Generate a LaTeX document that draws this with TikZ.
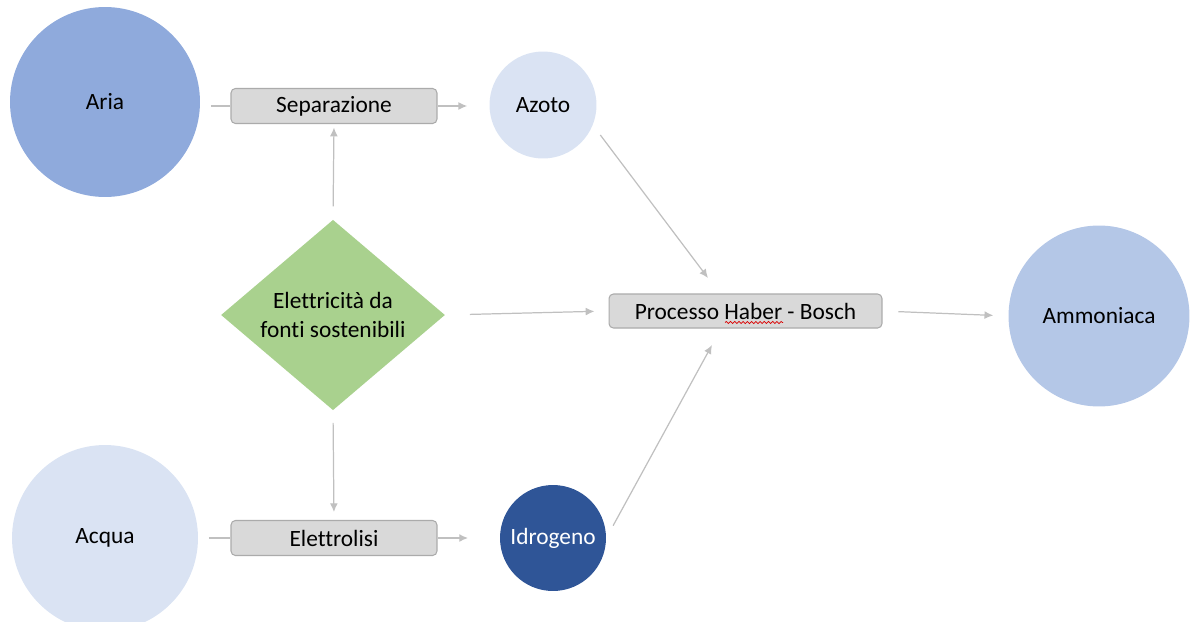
\documentclass[tikz,border=0pt]{standalone}
\usepackage{fontspec}
\setmainfont{Carlito}[Ligatures=NoCommon]
\usetikzlibrary{shapes.geometric,arrows.meta,decorations.pathmorphing}
\definecolor{aria}{HTML}{8FAADC}
\definecolor{pale}{HTML}{DAE3F3}
\definecolor{ammo}{HTML}{B4C7E7}
\definecolor{idro}{HTML}{2F5597}
\definecolor{green}{HTML}{A9D18E}
\definecolor{boxfill}{HTML}{D9D9D9}
\definecolor{boxline}{HTML}{ABABAB}
\definecolor{link}{HTML}{C0C0C0}
\begin{document}
\begin{tikzpicture}[x=0.02cm, y=-0.02cm,
  every node/.style={font=\fontsize{13.3}{16.5}\selectfont, text=black},
  bubble/.style={circle, draw=none, inner sep=0pt},
  stepbox/.style={draw=boxline, line width=0.6pt, fill=boxfill, rounded corners=2.5pt,
    minimum width=4.12cm, minimum height=0.7cm, inner sep=0pt},
  source/.style={diamond, fill=green, draw=none, inner sep=0pt,
    minimum width=4.48cm, minimum height=3.7cm, align=center},
  conn/.style={draw=link, line width=0.7pt},
  arr/.style={conn, -{Latex[length=5pt, width=4.5pt]}}
]
\useasboundingbox (0,0) rectangle (1190,622);

% raw materials and products
\node[bubble, fill=aria, minimum size=3.8cm] (aria) at (105,102) {Aria};
\node[bubble, fill=pale, minimum size=3.72cm] (acqua) at (105,538) {Acqua};
\node[bubble, fill=pale, minimum size=2.14cm] (azoto) at (543,105) {Azoto};
\node[bubble, fill=idro, minimum size=2.12cm, text=white] (idrogeno) at (553,538) {Idrogeno};
\node[bubble, fill=ammo, minimum size=3.62cm] (ammoniaca) at (1099,316) {Ammoniaca};

% energy source
\node[source] (energia) at (333,315) {Elettricità da\\fonti sostenibili};

% process steps
\node[stepbox] (separazione) at (334,106) {Separazione};
\node[stepbox] (elettrolisi) at (334,538) {Elettrolisi};
\node[stepbox, minimum width=5.46cm, minimum height=0.68cm] (haber) at (745.5,311) {Processo Haber - Bosch};

% spell-check squiggle under "Haber"
\draw[red!85!black, line width=0.4pt, decorate,
  decoration={snake, amplitude=0.6pt, segment length=2.4pt}] (725,322.5) -- (783,322.5);

% connectors
\coordinate (hTop) at (708,278);
\coordinate (hBot) at (712,345);

\draw[conn, shorten <=6pt] (aria.east |- separazione.west) -- (separazione.west);
\draw[arr, shorten >=12.5pt] (separazione.east) -- (azoto.west |- separazione.east);
\draw[arr, shorten <=7.5pt, shorten >=2pt] (energia.north) -- (separazione.south);
\draw[arr, shorten <=7pt, shorten >=4.5pt] (energia.south) -- (elettrolisi.north);
\draw[arr, shorten <=14pt, shorten >=8pt] (energia.east) -- (haber.west);
\draw[conn, shorten <=6pt] (acqua.east) -- (elettrolisi.west);
\draw[arr, shorten >=18pt] (elettrolisi.east) -- (idrogeno.west);
\draw[arr, shorten <=7pt] (azoto.-22) -- (hTop);
\draw[arr, shorten <=8pt] (idrogeno.east) -- (hBot);
\draw[arr, shorten <=9pt, shorten >=8.5pt] (haber.east) -- (ammoniaca.west);
\end{tikzpicture}
\end{document}
